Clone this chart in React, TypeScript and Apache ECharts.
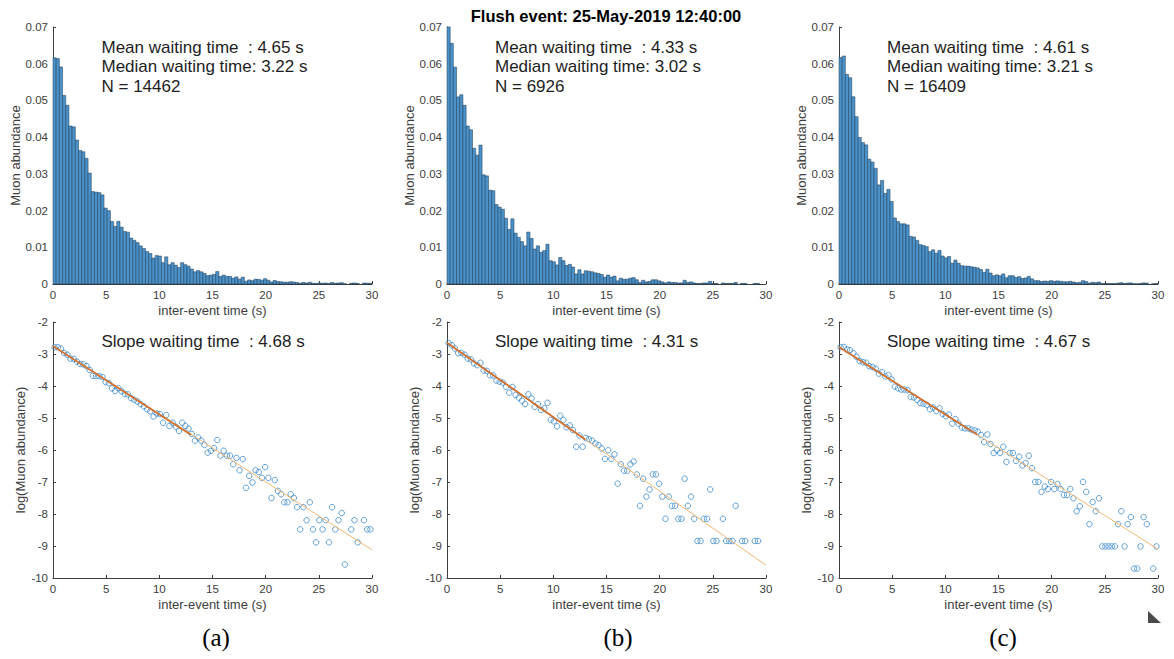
import React, { useEffect, useRef } from 'react';
import * as echarts from 'echarts';

// ---------- data ----------
const BIN_WIDTH = 0.3; // seconds per histogram bin (100 bins over 0–30 s)

const N_A = 14462;
const N_B = 6926;
const N_C = 16409;

// per-bin muon counts (abundance = count / N)
const COUNTS_A = [
  891, 888, 855, 743, 704, 622, 619, 567, 526, 521,
  495, 437, 364, 362, 360, 351, 299, 289, 246, 227,
  247, 224, 207, 204, 181, 172, 163, 150, 140, 128,
  120, 102, 112, 110, 84, 107, 76, 84, 74, 65,
  84, 76, 70, 59, 48, 53, 48, 42, 33, 35,
  38, 49, 30, 35, 30, 30, 23, 28, 19, 27,
  11, 16, 13, 19, 18, 15, 21, 15, 8, 14,
  10, 9, 7, 7, 9, 8, 6, 3, 6, 4,
  7, 3, 2, 4, 3, 4, 2, 6, 3, 4,
  5, 1, 0, 3, 4, 2, 0, 4, 3, 3,
];

const COUNTS_B = [
  485, 454, 409, 353, 357, 337, 298, 291, 256, 243,
  262, 206, 204, 177, 176, 150, 145, 141, 124, 103,
  123, 96, 88, 80, 72, 98, 86, 66, 72, 60,
  63, 75, 44, 42, 36, 50, 44, 35, 37, 32,
  19, 27, 19, 25, 24, 23, 21, 20, 18, 13,
  17, 13, 15, 6, 11, 9, 9, 11, 12, 8,
  3, 7, 4, 5, 8, 8, 6, 4, 2, 4,
  3, 3, 2, 2, 7, 3, 4, 2, 1, 1,
  2, 2, 5, 1, 1, 0, 2, 1, 1, 1,
  3, 0, 1, 1, 0, 0, 1, 1, 0, 0,
];

const COUNTS_C = [
  1012, 1019, 937, 922, 837, 748, 655, 632, 622, 558,
  545, 517, 443, 463, 405, 423, 369, 295, 279, 269,
  269, 264, 213, 210, 195, 176, 172, 167, 145, 153,
  138, 150, 125, 117, 123, 93, 107, 93, 82, 80,
  80, 77, 75, 72, 65, 52, 66, 49, 37, 41,
  37, 45, 28, 37, 37, 29, 33, 25, 27, 34,
  23, 15, 15, 11, 13, 12, 15, 12, 14, 12,
  10, 10, 12, 9, 6, 7, 15, 11, 4, 8,
  6, 9, 2, 2, 2, 2, 2, 4, 6, 2,
  4, 5, 1, 1, 2, 5, 4, 0, 1, 2,
];

// fitted lines in log space: fitted part (short) and full extension (long)
const FIT_A_SHORT = [[0, -2.75], [13, -5.53]];
const FIT_A_LONG = [[0, -2.75], [30, -9.12]];
const FIT_B_SHORT = [[0, -2.65], [13, -5.67]];
const FIT_B_LONG = [[0, -2.65], [30, -9.6]];
const FIT_C_SHORT = [[0, -2.78], [13, -5.52]];
const FIT_C_LONG = [[0, -2.78], [30, -9.1]];

const MEAN_TEXTS = ['Mean waiting time  : 4.65 s', 'Mean waiting time  : 4.33 s', 'Mean waiting time  : 4.61 s'];
const MEDIAN_TEXTS = ['Median waiting time: 3.22 s', 'Median waiting time: 3.02 s', 'Median waiting time: 3.21 s'];
const N_TEXTS = ['N = 14462', 'N = 6926', 'N = 16409'];
const SLOPE_TEXTS = ['Slope waiting time  : 4.68 s', 'Slope waiting time  : 4.31 s', 'Slope waiting time  : 4.67 s'];
const TAGS = ['(a)', '(b)', '(c)'];
const TITLE = 'Flush event: 25-May-2019 12:40:00';
const X_NAME = 'inter-event time (s)';
const Y_NAME_TOP = 'Muon abundance';
const Y_NAME_BOTTOM = 'log(Muon abundance)';

// ---------- style / layout ----------
const FONT = "'Liberation Sans', Arial, Helvetica, sans-serif";
const SERIF = "'Liberation Serif', 'Times New Roman', serif";
const AXIS_COLOR = '#3d3d3d';
const PANEL_LEFTS = [53, 447, 839];
const TEXT_LEFTS = [101.5, 495, 887];
const TAG_CENTERS = [216, 618, 1003];
const PLOT_W = 319;
const TOP_Y = 27;
const TOP_H = 257;
const BOT_Y = 322;
const BOT_H = 256;

function buildOption() {
  const panels = [
    { n: N_A, counts: COUNTS_A, fs: FIT_A_SHORT, fl: FIT_A_LONG },
    { n: N_B, counts: COUNTS_B, fs: FIT_B_SHORT, fl: FIT_B_LONG },
    { n: N_C, counts: COUNTS_C, fs: FIT_C_SHORT, fl: FIT_C_LONG },
  ];

  const grid: any[] = [];
  const xAxis: any[] = [];
  const yAxis: any[] = [];
  const series: any[] = [];
  const graphic: any[] = [];

  const axisCommon = {
    axisLine: { show: true, onZero: false, lineStyle: { color: AXIS_COLOR, width: 1 } },
    axisTick: { show: true, inside: true, length: 3, lineStyle: { color: AXIS_COLOR, width: 1 } },
    axisLabel: { fontSize: 11.5, color: AXIS_COLOR, fontFamily: FONT, margin: 5 },
    splitLine: { show: false },
    nameTextStyle: { fontSize: 13, color: AXIS_COLOR, fontFamily: FONT },
  };

  panels.forEach((p, i) => {
    const left = PANEL_LEFTS[i];
    const gTop = 2 * i;
    const gBot = 2 * i + 1;
    grid.push({ left, top: TOP_Y, width: PLOT_W, height: TOP_H });
    grid.push({ left, top: BOT_Y, width: PLOT_W, height: BOT_H });

    for (const g of [gTop, gBot]) {
      xAxis.push({
        ...axisCommon,
        type: 'value', gridIndex: g, min: 0, max: 30, interval: 5,
        name: X_NAME, nameLocation: 'middle', nameGap: 20,
      });
    }
    yAxis.push({
      ...axisCommon,
      type: 'value', gridIndex: gTop, min: 0, max: 0.07, interval: 0.01,
      name: Y_NAME_TOP, nameLocation: 'middle', nameRotate: 90, nameGap: 28,
      axisLabel: { ...axisCommon.axisLabel, formatter: (v: number) => (v === 0 ? '0' : String(Math.round(v * 100) / 100)) },
    });
    yAxis.push({
      ...axisCommon,
      type: 'value', gridIndex: gBot, min: -10, max: -2, interval: 1,
      name: Y_NAME_BOTTOM, nameLocation: 'middle', nameRotate: 90, nameGap: 23,
    });

    const histData = p.counts.map((c, k) => [k * BIN_WIDTH, (k + 1) * BIN_WIDTH, c / p.n]);
    series.push({
      type: 'custom',
      xAxisIndex: gTop, yAxisIndex: gTop,
      data: histData,
      renderItem: (params: any, api: any) => {
        const v = api.value(2);
        if (!(v > 0)) return null;
        const p0 = api.coord([api.value(0), v]);
        const p1 = api.coord([api.value(1), 0]);
        return {
          type: 'rect',
          shape: { x: p0[0], y: p0[1], width: p1[0] - p0[0], height: p1[1] - p0[1] },
          style: { fill: '#4b92ca', stroke: '#1d3850', lineWidth: 0.5 },
        };
      },
    });

    const scatterData = p.counts
      .map((c, k) => (c > 0 ? [(k + 0.5) * BIN_WIDTH, Math.log(c / p.n)] : null))
      .filter((d) => d !== null);
    series.push({
      type: 'scatter',
      xAxisIndex: gBot, yAxisIndex: gBot,
      data: scatterData,
      symbol: 'circle', symbolSize: 5.5,
      itemStyle: { color: 'rgba(0,0,0,0)', borderColor: '#3a89cc', borderWidth: 1 },
      z: 2,
    });
    series.push({
      type: 'line',
      xAxisIndex: gBot, yAxisIndex: gBot,
      data: p.fl, showSymbol: false, symbol: 'none',
      lineStyle: { color: '#f2b774', width: 1 },
      z: 3,
    });
    series.push({
      type: 'line',
      xAxisIndex: gBot, yAxisIndex: gBot,
      data: p.fs, showSymbol: false, symbol: 'none',
      lineStyle: { color: '#d2712e', width: 1.8 },
      z: 4,
    });

    const tStyle = { fontSize: 17, fontFamily: FONT, fill: '#1e1e1e', align: 'left', verticalAlign: 'middle' };
    graphic.push({ type: 'text', x: TEXT_LEFTS[i], y: 47, style: { ...tStyle, text: MEAN_TEXTS[i] } });
    graphic.push({ type: 'text', x: TEXT_LEFTS[i], y: 66.5, style: { ...tStyle, text: MEDIAN_TEXTS[i] } });
    graphic.push({ type: 'text', x: TEXT_LEFTS[i], y: 86, style: { ...tStyle, text: N_TEXTS[i] } });
    graphic.push({ type: 'text', x: TEXT_LEFTS[i], y: 341, style: { ...tStyle, text: SLOPE_TEXTS[i] } });
    graphic.push({
      type: 'text', x: TAG_CENTERS[i], y: 637,
      style: { text: TAGS[i], fontSize: 25, fontFamily: SERIF, fill: '#000', align: 'center', verticalAlign: 'middle' },
    });
  });

  graphic.push({
    type: 'text', x: 606, y: 16,
    style: { text: TITLE, fontSize: 16.5, fontWeight: 'bold', fontFamily: FONT, fill: '#000', align: 'center', verticalAlign: 'middle' },
  });
  graphic.push({
    type: 'polygon',
    shape: { points: [[1148, 611], [1161, 623], [1148, 623]] },
    style: { fill: '#4a4a4a' },
  });

  return {
    animation: false,
    backgroundColor: '#ffffff',
    grid,
    xAxis,
    yAxis,
    series,
    graphic,
  };
}

export default function App() {
  const ref = useRef<HTMLDivElement>(null);
  useEffect(() => {
    if (!ref.current) return;
    const chart = echarts.init(ref.current, null, { renderer: 'svg' });
    chart.setOption(buildOption() as any);
    return () => chart.dispose();
  }, []);
  return (
    <div
      ref={ref}
      style={{ position: 'absolute', left: 0, top: 0, width: 1174, height: 659, background: '#fff' }}
    />
  );
}
